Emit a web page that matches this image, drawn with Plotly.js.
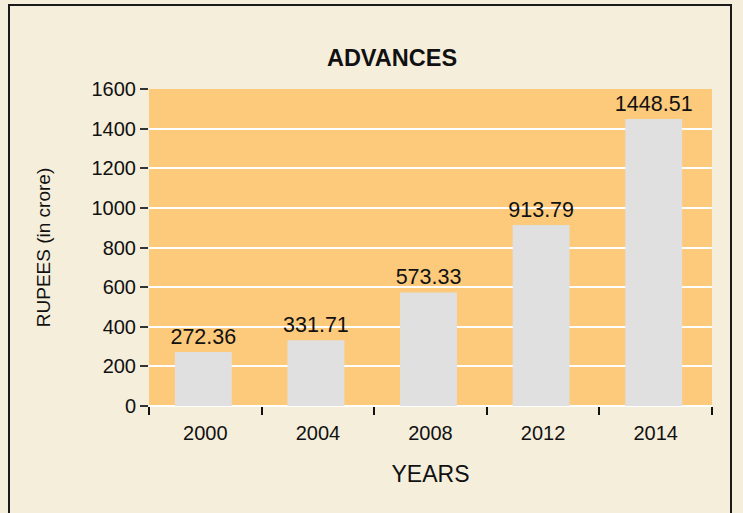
<!DOCTYPE html>
<html>
<head>
<meta charset="utf-8">
<script src="https://cdn.plot.ly/plotly-3.0.1.min.js"></script>
<style>html,body{margin:0;padding:0;background:#f5eedb;}#chart{width:743px;height:513px;}</style>
</head>
<body>
<div id="chart"></div>
<script>
const years = ["2000", "2004", "2008", "2012", "2014"];
const advances = [272.36, 331.71, 573.33, 913.79, 1448.51];
const labels = ["272.36", "331.71", "573.33", "913.79", "1448.51"];
const yTicks = [0, 200, 400, 600, 800, 1000, 1200, 1400, 1600];

const W = 743, H = 513;
const L = 149, R = 31, T = 89, B = 107;
const pw = W - L - R, ph = H - T - B;
const px = v => (v - L) / pw;
const py = v => (H - B - v) / ph;

const trace = {
  type: "bar",
  x: years,
  y: advances,
  text: labels,
  textposition: "outside",
  constraintext: "none",
  cliponaxis: false,
  width: 0.505,
  offset: -0.27,
  textfont: {family: "Liberation Sans, Arial, sans-serif", size: 21.5, color: "#111"},
  marker: {color: "#e0e0e0"},
  hoverinfo: "x+y"
};

const layout = {
  width: W, height: H,
  margin: {l: L, r: R, t: T, b: B, pad: 0},
  paper_bgcolor: "#f5eedb",
  plot_bgcolor: "#fdca7b",
  bargap: 0.5,
  showlegend: false,
  font: {family: "Liberation Sans, Arial, sans-serif", color: "#111"},
  title: {
    text: "<b>ADVANCES</b>",
    font: {size: 23.5, color: "#111"},
    x: 392 / W, xanchor: "center",
    y: 1 - 58 / H, yanchor: "middle", yref: "container"
  },
  xaxis: {
    type: "category",
    tickson: "boundaries",
    ticks: "outside", ticklen: 8, tickwidth: 1.5, tickcolor: "#111",
    showgrid: false, showline: false, zeroline: false,
    tickfont: {size: 20, color: "#111"},
    ticklabelstandoff: 13,
    title: {text: "YEARS", font: {size: 23, color: "#111"}, standoff: 22}
  },
  yaxis: {
    range: [0, 1600],
    tickvals: yTicks,
    ticktext: yTicks.map(String),
    ticks: "outside", ticklen: 8, tickwidth: 1.5, tickcolor: "#333",
    showgrid: true, gridcolor: "#ffffff", gridwidth: 2,
    zeroline: true, zerolinecolor: "#ffffff", zerolinewidth: 2,
    showline: false,
    tickfont: {size: 20, color: "#111"},
    ticklabelstandoff: 0,
    title: {text: "RUPEES (in crore)", font: {size: 19, color: "#111"}, standoff: 35}
  },
  shapes: [{
    type: "rect", xref: "paper", yref: "paper",
    x0: px(9), x1: px(731), y0: py(5), y1: py(530),
    line: {color: "#1a1a1a", width: 2},
    fillcolor: "rgba(0,0,0,0)",
    layer: "below"
  }]
};

Plotly.newPlot("chart", [trace], layout, {displayModeBar: false, responsive: false});
</script>
</body>
</html>
